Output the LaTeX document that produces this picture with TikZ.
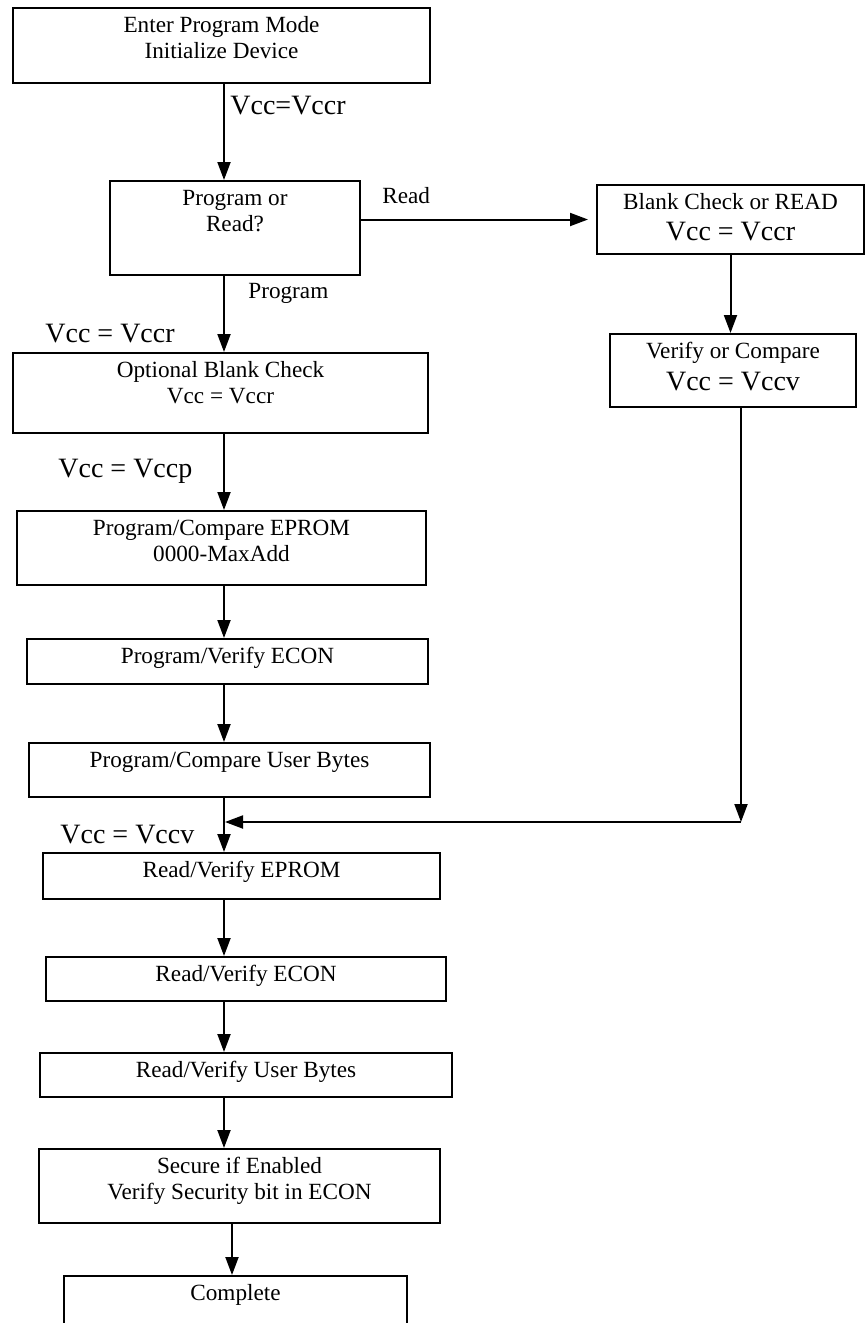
\documentclass[tikz,border=0pt]{standalone}
\usepackage{fontspec}
\setmainfont{Liberation Serif}
\usetikzlibrary{arrows.meta}
\newcommand{\vccfont}{\fontsize{14}{16}\selectfont}
\tikzset{
	>={Triangle[length=9pt,width=6.5pt]}, % Punta de flecha triangular rellena
	x=0.5pt, y=-0.5pt, % Coordenadas en pixeles, y hacia abajo
	stepbox/.style={draw, line width=1pt, anchor=north, align=center,
		inner xsep=0pt, inner ysep=3pt, text height=9pt,
		font=\fontsize{11.6}{13}\selectfont}, % Cajas del diagrama
	twoline/.style={text height=22pt}, % Cajas con dos lineas de texto
	flow/.style={draw, ->, line width=1pt}, % Flechas entre cajas
	flowlabel/.style={anchor=base west, inner sep=0pt, font=\fontsize{11.6}{13}\selectfont}, % Texto pequeno
	vcclabel/.style={anchor=base west, inner sep=0pt, font=\vccfont} % Texto de tensiones
}

\begin{document}
\begin{tikzpicture}
	\useasboundingbox (0,0) rectangle (867,1323);
	\coordinate (spine) at (224,0);
	\coordinate (spinelast) at (232,0);
	\coordinate (merge) at (741,822);

	\node[stepbox, twoline, minimum width=208.5pt, text depth=9.5pt] (init) at (221.5,7) {Enter Program Mode\\Initialize Device};
	\node[stepbox, twoline, minimum width=125pt, text depth=19pt] (query) at (235,180) {Program or\\Read?};
	\node[stepbox, text height=24.5pt, minimum width=133.5pt, text depth=4pt] (blank) at (730.5,184) {Blank Check or READ\\[2.5pt]{\vccfont Vcc = Vccr}};
	\node[stepbox, text height=25pt, minimum width=123pt, text depth=5.5pt] (verify) at (733,333) {Verify or Compare\\[3pt]{\vccfont Vcc = Vccv}};
	\node[stepbox, twoline, minimum width=207.5pt, text depth=12pt] (optblank) at (220.5,352) {Optional Blank Check\\Vcc = Vccr};
	\node[stepbox, twoline, minimum width=204.5pt, text depth=9pt] (pgmeprom) at (221.5,510) {Program/Compare EPROM\\0000-MaxAdd};
	\node[stepbox, minimum width=200.5pt, text depth=7.5pt] (pgmecon) at (227.5,638) {Program/Verify ECON};
	\node[stepbox, minimum width=200.5pt, text depth=12pt] (pgmuser) at (229.5,742) {Program/Compare User Bytes};
	\node[stepbox, minimum width=198.5pt, text depth=8pt] (rdeprom) at (241.5,852) {Read/Verify EPROM};
	\node[stepbox, minimum width=200pt, text depth=7pt] (rdecon) at (246,956) {Read/Verify ECON};
	\node[stepbox, minimum width=206pt, text depth=7pt] (rduser) at (246,1052) {Read/Verify User Bytes};
	\node[stepbox, twoline, minimum width=200.5pt, text depth=9pt] (secure) at (239.5,1148) {Secure if Enabled\\Verify Security bit in ECON};
	\node[stepbox, minimum width=171.5pt, text depth=25pt] (complete) at (235.5,1275) {Complete};

	\node[vcclabel] (vccinit) at (230,114) {Vcc=Vccr};
	\node[flowlabel] (readlbl) at (382,203) {Read};
	\node[flowlabel] (pgmlbl) at (248,298) {Program};
	\node[vcclabel] (vccread) at (45,342) {Vcc = Vccr};
	\node[vcclabel] (vccprog) at (58,477) {Vcc = Vccp};
	\node[vcclabel] (vccver) at (60,843) {Vcc = Vccv};

	\path[every edge/.append style={flow}]
		(init.south -| spine) edge (query.north -| spine)
		(query.east |- blank.west) edge[shorten >=4pt] (blank.west)
		(query.south -| spine) edge (optblank.north -| spine)
		(optblank.south -| spine) edge (pgmeprom.north -| spine)
		(pgmeprom.south -| spine) edge (pgmecon.north -| spine)
		(pgmecon.south -| spine) edge (pgmuser.north -| spine)
		(pgmuser.south -| spine) edge (rdeprom.north -| spine)
		(blank.south) edge (blank.south |- verify.north)
		(verify.south -| merge) edge (merge)
		(merge) edge[shorten >=0.5pt] (merge -| spine)
		(rdeprom.south -| spine) edge (rdecon.north -| spine)
		(rdecon.south -| spine) edge (rduser.north -| spine)
		(rduser.south -| spine) edge (secure.north -| spine)
		(secure.south -| spinelast) edge (complete.north -| spinelast);
\end{tikzpicture}
\end{document}
